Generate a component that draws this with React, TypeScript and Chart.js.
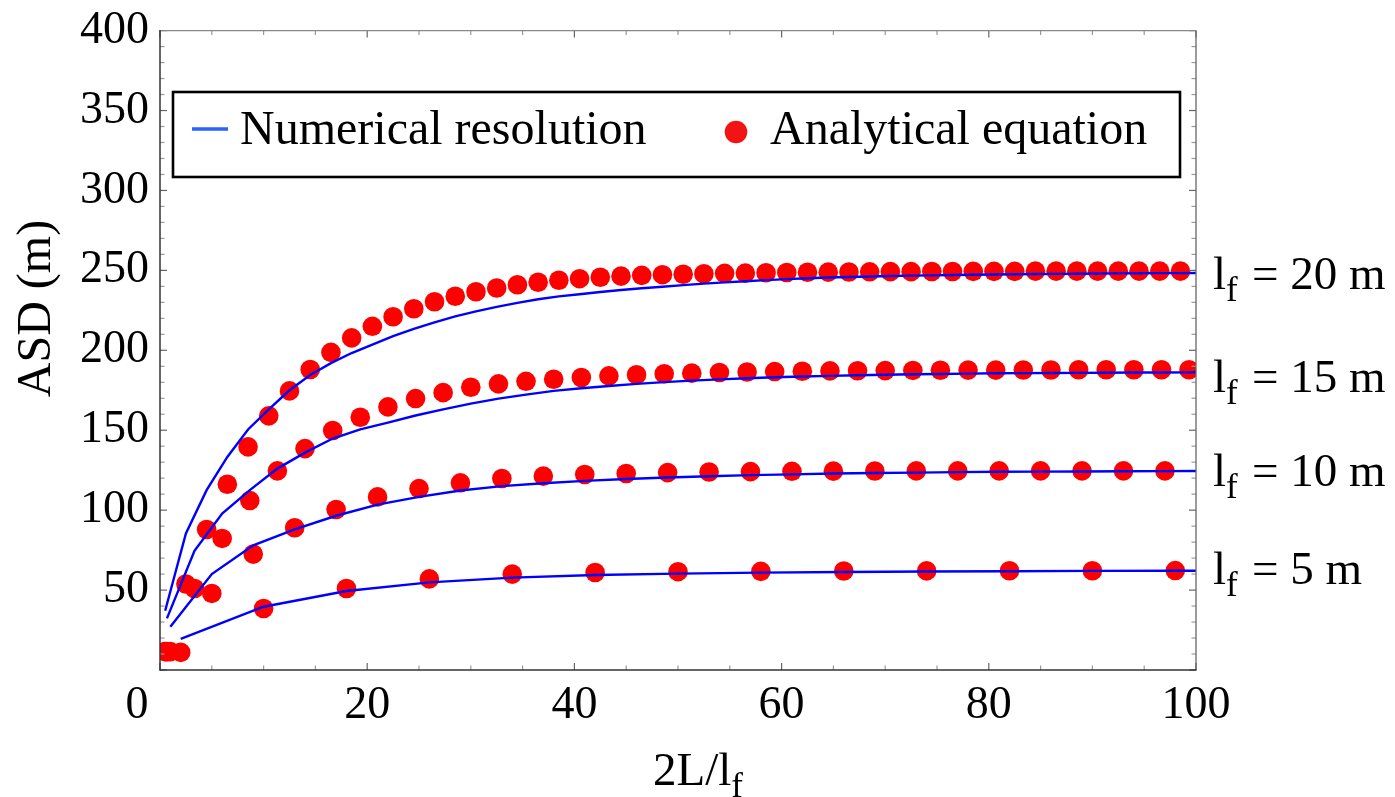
import React, { useEffect, useRef } from "react";
import { Chart, registerables } from "chart.js";

Chart.register(...registerables);

const FONT = "'Liberation Serif', 'Times New Roman', serif";

// x = 2L/lf positions of the analytical points, one list per fibre length
const xLf20 = [0.5, 2.5, 4.5, 6.5, 8.5, 10.5, 12.5, 14.5, 16.5, 18.5, 20.5, 22.5, 24.5, 26.5, 28.5, 30.5, 32.5, 34.5, 36.5, 38.5, 40.5, 42.5, 44.5, 46.5, 48.5, 50.5, 52.5, 54.5, 56.5, 58.5, 60.5, 62.5, 64.5, 66.5, 68.5, 70.5, 72.5, 74.5, 76.5, 78.5, 80.5, 82.5, 84.5, 86.5, 88.5, 90.5, 92.5, 94.5, 96.5, 98.5];
const xLf15 = [0.67, 3.33, 6, 8.67, 11.33, 14, 16.67, 19.33, 22, 24.67, 27.33, 30, 32.67, 35.33, 38, 40.67, 43.33, 46, 48.67, 51.33, 54, 56.67, 59.33, 62, 64.67, 67.33, 70, 72.67, 75.33, 78, 80.67, 83.33, 86, 88.67, 91.33, 94, 96.67, 99.33];
const xLf10 = [1, 5, 9, 13, 17, 21, 25, 29, 33, 37, 41, 45, 49, 53, 57, 61, 65, 69, 73, 77, 81, 85, 89, 93, 97];
const xLf5 = [2, 10, 18, 26, 34, 42, 50, 58, 66, 74, 82, 90, 98];

// x positions of the numerical-resolution vertices (continue past the frame)
const xNumLf20 = [0.5, 2.5, 4.5, 6.5, 8.5, 10.5, 12.5, 14.5, 16.5, 18.5, 20.5, 22.5, 24.5, 26.5, 28.5, 30.5, 32.5, 34.5, 36.5, 38.5, 40.5, 42.5, 44.5, 46.5, 48.5, 50.5, 52.5, 54.5, 56.5, 58.5, 60.5, 62.5, 64.5, 66.5, 68.5, 70.5, 72.5, 74.5, 76.5, 78.5, 80.5, 82.5, 84.5, 86.5, 88.5, 90.5, 92.5, 94.5, 96.5, 98.5, 100.5];
const xNumLf15 = [0.67, 3.33, 6, 8.67, 11.33, 14, 16.67, 19.33, 22, 24.67, 27.33, 30, 32.67, 35.33, 38, 40.67, 43.33, 46, 48.67, 51.33, 54, 56.67, 59.33, 62, 64.67, 67.33, 70, 72.67, 75.33, 78, 80.67, 83.33, 86, 88.67, 91.33, 94, 96.67, 99.33, 102];
const xNumLf10 = [1, 5, 9, 13, 17, 21, 25, 29, 33, 37, 41, 45, 49, 53, 57, 61, 65, 69, 73, 77, 81, 85, 89, 93, 97, 101];
const xNumLf5 = [2, 10, 18, 26, 34, 42, 50, 58, 66, 74, 82, 90, 98, 106];

// Numerical resolution (blue lines), ASD in m
const numLf20 = [37.1, 85.4, 112.5, 133.3, 150.5, 163, 175, 184.5, 192, 198.3, 203.5, 208.8, 213.4, 217.5, 221.2, 224.3, 227.2, 229.7, 231.9, 233.7, 235.1, 236.5, 237.7, 238.8, 239.8, 240.8, 241.7, 242.5, 243.2, 243.9, 244.5, 245.1, 245.5, 245.9, 246.2, 246.5, 246.7, 246.9, 247.1, 247.3, 247.4, 247.6, 247.7, 247.8, 247.9, 248, 248.1, 248.2, 248.3, 248.3, 248.4];
const numLf15 = [32.3, 74.6, 97.9, 112.5, 126, 136, 144.8, 150.5, 154.8, 159.2, 163, 166.6, 169.8, 172.3, 174.6, 176.3, 177.7, 179, 180.1, 181, 181.8, 182.5, 183.1, 183.6, 184, 184.4, 184.7, 185, 185.2, 185.4, 185.6, 185.7, 185.8, 185.9, 186, 186.1, 186.1, 186.2, 186.3];
const numLf10 = [27, 60, 78, 88, 96.5, 103.5, 108.3, 112.3, 115, 116.8, 118.3, 119.5, 120.4, 121.2, 121.9, 122.4, 122.9, 123.2, 123.5, 123.8, 124, 124.1, 124.2, 124.3, 124.4, 124.5];
const numLf5 = [19.4, 39.6, 49.4, 54.8, 57.8, 59.4, 60.3, 60.9, 61.3, 61.6, 61.8, 62, 62.1, 62.2];

// Analytical equation (red dots), ASD in m
const anaLf20 = [11.5, 53.8, 87.9, 116.2, 139.6, 159, 174.6, 188, 198.7, 207.8, 215, 221, 226, 230.4, 233.8, 236.6, 239, 241, 242.6, 243.8, 244.8, 245.7, 246.4, 246.9, 247.3, 247.6, 247.9, 248.1, 248.3, 248.5, 248.7, 248.8, 248.9, 249, 249.1, 249.2, 249.2, 249.3, 249.3, 249.4, 249.4, 249.4, 249.5, 249.5, 249.5, 249.5, 249.5, 249.5, 249.5, 249.5];
const anaLf15 = [11.5, 51, 82.3, 106, 124.6, 138.5, 149.8, 158.1, 164.6, 169.8, 173.5, 176.9, 179, 180.6, 181.9, 183, 184, 184.7, 185.3, 185.7, 186.1, 186.4, 186.7, 186.9, 187.1, 187.2, 187.3, 187.4, 187.5, 187.6, 187.6, 187.7, 187.7, 187.8, 187.8, 187.8, 187.8, 187.8];
const anaLf10 = [11.5, 47.9, 72.5, 89, 100.4, 108.3, 113.5, 117.1, 119.8, 121.3, 122.3, 122.9, 123.5, 123.9, 124.1, 124.3, 124.4, 124.5, 124.6, 124.6, 124.6, 124.6, 124.6, 124.6, 124.6];
const anaLf5 = [11, 38.5, 51, 57, 60, 61, 61.5, 61.7, 61.9, 62, 62.1, 62.1, 62.2];

// curve annotations on the right
const curveLabels = ["20", "15", "10", "5"];
const curveLabelLevels = [248, 183, 124.5, 63];

const xTickValues = [0, 20, 40, 60, 80, 100];
const yTickValues = [0, 50, 100, 150, 200, 250, 300, 350, 400];

const legendLabels = ["Numerical resolution", "Analytical equation"];

function pts(xs: number[], ys: number[]) {
  return xs.map((x, i) => ({ x, y: ys[i] }));
}

const decorPlugin = {
  id: "decor",
  afterDatasetsDraw(chart: any) {
    const { ctx, chartArea: a, scales } = chart;
    const xs = scales.x;
    const ys = scales.y;
    ctx.save();

    const line = (x1: number, y1: number, x2: number, y2: number, color: string, w: number) => {
      ctx.strokeStyle = color;
      ctx.lineWidth = w;
      ctx.beginPath();
      ctx.moveTo(x1, y1);
      ctx.lineTo(x2, y2);
      ctx.stroke();
    };
    for (let v = 0; v <= 400; v += 10) {
      const major = v % 50 === 0;
      const len = major ? 7 : 4.5;
      const col = major ? "#666" : "#9a9a9a";
      const py = ys.getPixelForValue(v);
      line(a.left, py, a.left + len, py, col, 1.2);
      line(a.right, py, a.right - len, py, col, 1.2);
    }
    for (let v = 0; v <= 100; v += 5) {
      const major = v % 20 === 0;
      const len = major ? 7 : 4.5;
      const col = major ? "#666" : "#9a9a9a";
      const px = xs.getPixelForValue(v);
      line(px, a.bottom, px, a.bottom - len, col, 1.2);
      line(px, a.top, px, a.top + len, col, 1.2);
    }

    // frame
    line(a.left, a.top, a.right, a.top, "#888", 1.3);
    line(a.right, a.top, a.right, a.bottom, "#666", 1.3);
    line(a.left, a.top - 0.5, a.left, a.bottom + 0.5, "#333", 1.5);
    line(a.left - 0.5, a.bottom, a.right + 0.5, a.bottom, "#333", 1.5);

    ctx.fillStyle = "#000";
    ctx.textBaseline = "alphabetic";
    ctx.textAlign = "left";

    const drawLf = (x: number, base: number, size: number, subSize: number) => {
      ctx.font = `${size}px ${FONT}`;
      ctx.fillText("l", x, base);
      const w = ctx.measureText("l").width;
      ctx.font = `${subSize}px ${FONT}`;
      ctx.fillText("f", x + w, base + 12);
    };

    curveLabels.forEach((lab, i) => {
      const base = ys.getPixelForValue(curveLabelLevels[i]) + 15;
      const x0 = a.right + 17;
      drawLf(x0, base, 47, 35);
      ctx.font = `47px ${FONT}`;
      ctx.fillText(`= ${lab} m`, x0 + 39, base);
    });

    {
      const x0 = 653;
      const base = 785;
      ctx.font = `47px ${FONT}`;
      ctx.fillText("2L/l", x0, base);
      const w = ctx.measureText("2L/l").width;
      ctx.font = `35px ${FONT}`;
      ctx.fillText("f", x0 + w, base + 12);
    }

    ctx.save();
    ctx.translate(50, 308.5);
    ctx.rotate(-Math.PI / 2);
    ctx.textAlign = "center";
    ctx.font = `48px ${FONT}`;
    ctx.fillText("ASD (m)", 0, 0);
    ctx.restore();

    ctx.fillStyle = "#fff";
    ctx.fillRect(173, 92, 1007, 85);
    ctx.strokeStyle = "#000";
    ctx.lineWidth = 2.6;
    ctx.strokeRect(173, 92, 1007, 85);
    line(192, 129, 228, 129, "#2a62ff", 3.5);
    ctx.fillStyle = "#000";
    ctx.font = `48px ${FONT}`;
    ctx.textAlign = "left";
    ctx.fillText(legendLabels[0], 240, 144);
    ctx.fillStyle = "#f21414";
    ctx.beginPath();
    ctx.arc(736, 132, 11.3, 0, Math.PI * 2);
    ctx.fill();
    ctx.fillStyle = "#000";
    ctx.fillText(legendLabels[1], 770, 144);

    ctx.restore();
  },
};

export default function App() {
  const ref = useRef<HTMLCanvasElement>(null);
  useEffect(() => {
    const canvas = ref.current!;
    const numeric = [
      [xNumLf20, numLf20],
      [xNumLf15, numLf15],
      [xNumLf10, numLf10],
      [xNumLf5, numLf5],
    ];
    const analytic = [
      [xLf20, anaLf20],
      [xLf15, anaLf15],
      [xLf10, anaLf10],
      [xLf5, anaLf5],
    ];
    const datasets: any[] = [
      ...numeric.map(([xs, ys], i) => ({
        label: `${legendLabels[0]} lf=${curveLabels[i]}`,
        data: pts(xs, ys),
        showLine: true,
        borderColor: "#0000ff",
        borderWidth: 2.4,
        pointRadius: 0,
        pointHoverRadius: 0,
        tension: 0,
        fill: false,
        clip: 0,
      })),
      ...analytic.map(([xs, ys], i) => ({
        label: `${legendLabels[1]} lf=${curveLabels[i]}`,
        data: pts(xs, ys),
        showLine: false,
        backgroundColor: "#ff0000",
        borderWidth: 0,
        pointRadius: 9.8,
        pointHoverRadius: 9.8,
        clip: 0,
      })),
    ];
    const chart = new Chart(canvas, {
      type: "scatter",
      data: { datasets },
      options: {
        responsive: false,
        animation: false,
        events: [],
        layout: { padding: { top: 30, right: 199, left: 0, bottom: 0 } },
        plugins: { legend: { display: false }, tooltip: { enabled: false } },
        scales: {
          x: {
            type: "linear",
            min: 0,
            max: 100,
            afterBuildTicks: (s: any) => {
              s.ticks = xTickValues.map((v) => ({ value: v }));
            },
            ticks: {
              autoSkip: false,
              maxRotation: 0,
              padding: 0,
              color: "#000",
              font: { family: FONT, size: 46 },
              callback: (v: any) => (v === 0 ? "0\u2003" : String(v)),
            },
            grid: { display: false },
            border: { display: false },
            afterFit: (s: any) => {
              s.height = 127;
            },
          },
          y: {
            type: "linear",
            min: 0,
            max: 400,
            afterBuildTicks: (s: any) => {
              s.ticks = yTickValues.map((v) => ({ value: v }));
            },
            ticks: {
              autoSkip: false,
              padding: 3,
              color: "#000",
              font: { family: FONT, size: 46 },
              callback: (v: any) => (v === 0 ? "" : String(v)),
            },
            grid: { display: false },
            border: { display: false },
            afterFit: (s: any) => {
              s.width = 160;
            },
          },
        },
      },
      plugins: [decorPlugin],
    } as any);
    return () => chart.destroy();
  }, []);
  return (
    <canvas
      ref={ref}
      width={1395}
      height={797}
      style={{ position: "absolute", left: 0, top: 0, display: "block" }}
    />
  );
}
